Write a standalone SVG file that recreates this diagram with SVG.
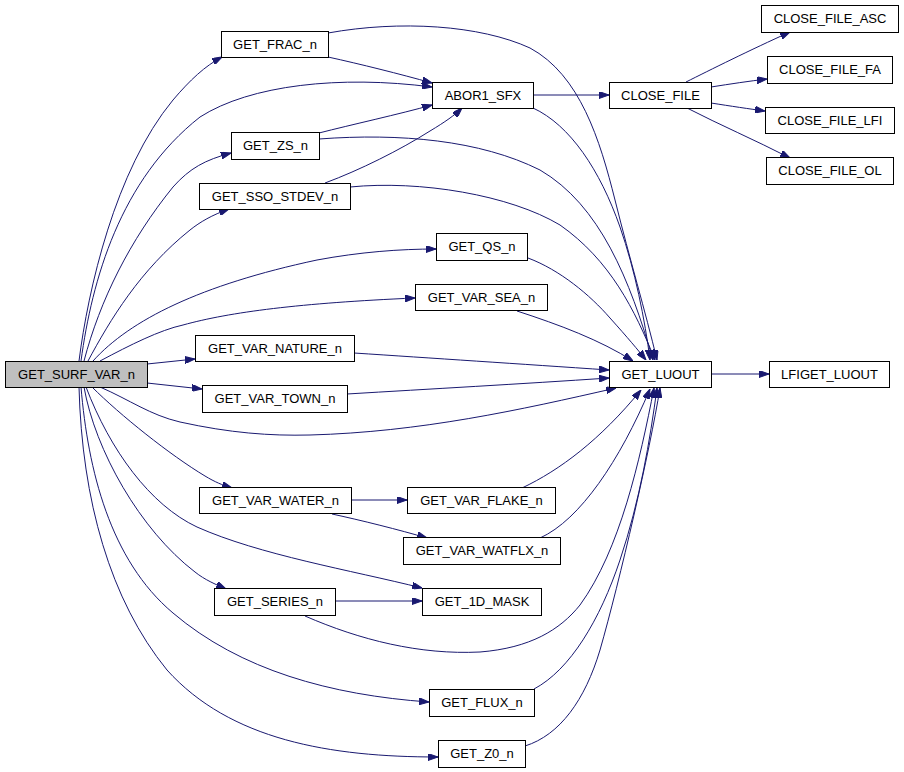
<svg xmlns="http://www.w3.org/2000/svg" width="904" height="772" viewBox="0 0 904 772">
<style>
.n rect{fill:#ffffff;stroke:#000000;stroke-width:1}
.n text{font-family:"Liberation Sans",Arial,sans-serif;font-size:13px;fill:#000000;text-anchor:middle}
#n_surf rect{fill:#bfbfbf}
.e path{fill:none;stroke:#191970;stroke-width:1;marker-end:url(#ah)}
</style>
<defs>
<marker id="ah" viewBox="0 0 10 7" refX="10" refY="3.5" markerWidth="10" markerHeight="7" markerUnits="userSpaceOnUse" orient="auto">
<path d="M0,0 L10,3.5 L0,7 z" fill="#191970" stroke="#191970"/>
</marker>
</defs>
<rect width="904" height="772" fill="#ffffff"/>
<g id="edges" class="e">
<path d="M79,361 C88,290 115,170 173,100 C190,80 205,66 222,57"/>
<path d="M81,361 C92,280 120,180 200,117 C250,85 340,75 432,87"/>
<path d="M84,361 C100,300 130,240 173,187 C190,168 205,160 231,153"/>
<path d="M88,361 C110,320 140,270 190,230 C200,222 212,215 229,209"/>
<path d="M93,361 C130,320 200,285 317,260 C360,252 400,249 436,249"/>
<path d="M100,361 C130,345 160,330 183,325 C230,312 300,303 415,298"/>
<path d="M147,364 L195,359"/>
<path d="M147,383 L202,389"/>
<path d="M100,387 C130,400 150,415 180,422 C230,433 270,436 310,435 C420,432 520,410 616,388"/>
<path d="M92,387 C120,415 170,455 205,476 C215,482 222,485 232,488"/>
<path d="M86,387 C110,450 150,505 197,527 C260,555 350,570 422,588"/>
<path d="M84,387 C95,450 140,530 195,572 C205,580 215,584 226,589"/>
<path d="M81,387 C88,470 110,560 173,613 C240,670 330,695 429,702"/>
<path d="M79,387 C82,500 110,600 167,670 C230,740 330,757 438,757"/>
<path d="M328,57 C360,64 400,74 432,83"/>
<path d="M328,33 C400,20 480,25 530,48 C580,75 600,140 615,200 C630,260 645,310 657,360"/>
<path d="M319,133 C350,125 400,114 432,105"/>
<path d="M319,139 C400,133 480,140 540,170 C600,205 630,280 653,360"/>
<path d="M325,183 C360,170 400,150 430,131 C445,122 455,115 462,108"/>
<path d="M350,187 C420,180 510,195 560,225 C610,260 635,310 655,360"/>
<path d="M533,95 L609,95"/>
<path d="M533,108 C570,125 600,170 620,227 C635,270 645,320 650,360"/>
<path d="M686,82 C710,70 750,50 790,32"/>
<path d="M711,87 C730,84 750,81 767,79"/>
<path d="M711,103 C730,106 750,109 765,111"/>
<path d="M687,108 C720,125 755,140 790,158"/>
<path d="M528,258 C560,270 590,295 610,318 C628,338 638,350 646,360"/>
<path d="M517,311 C560,325 600,340 633,361"/>
<path d="M354,353 C430,358 520,364 609,370"/>
<path d="M347,394 C430,389 520,384 609,378"/>
<path d="M711,374 L769,374"/>
<path d="M351,500 L407,500"/>
<path d="M332,514 C360,520 400,530 427,538"/>
<path d="M522,488 C560,470 600,440 641,390"/>
<path d="M540,538 C580,520 620,460 650,389"/>
<path d="M305,616 C360,640 420,655 480,652 C530,648 560,630 580,605 C620,550 640,460 654,388"/>
<path d="M334,601 L422,601"/>
<path d="M534,689 C570,670 600,620 620,560 C640,500 650,440 657,388"/>
<path d="M525,746 C560,735 585,700 600,650 C620,580 650,450 660,388"/>
</g>
<g id="n_surf" class="n"><rect x="5.5" y="361.5" width="142" height="26"/><text x="76.5" y="379">GET_SURF_VAR_n</text></g>
<g id="n_frac" class="n"><rect x="221.5" y="31.5" width="107" height="26"/><text x="275" y="49">GET_FRAC_n</text></g>
<g id="n_abor1" class="n"><rect x="432.5" y="82.5" width="101" height="26"/><text x="483" y="100">ABOR1_SFX</text></g>
<g id="n_close" class="n"><rect x="609.5" y="82.5" width="102" height="26"/><text x="660.5" y="100">CLOSE_FILE</text></g>
<g id="n_asc" class="n"><rect x="761.5" y="5.5" width="137" height="27"/><text x="830" y="23">CLOSE_FILE_ASC</text></g>
<g id="n_fa" class="n"><rect x="767.5" y="56.5" width="125" height="27"/><text x="830" y="74">CLOSE_FILE_FA</text></g>
<g id="n_lfi" class="n"><rect x="765.5" y="107.5" width="129" height="26"/><text x="830" y="125">CLOSE_FILE_LFI</text></g>
<g id="n_ol" class="n"><rect x="766.5" y="157.5" width="127" height="27"/><text x="830" y="175">CLOSE_FILE_OL</text></g>
<g id="n_zs" class="n"><rect x="231.5" y="132.5" width="88" height="27"/><text x="275.5" y="150">GET_ZS_n</text></g>
<g id="n_sso" class="n"><rect x="199.5" y="183.5" width="151" height="26"/><text x="275" y="201">GET_SSO_STDEV_n</text></g>
<g id="n_qs" class="n"><rect x="436.5" y="233.5" width="91" height="27"/><text x="482" y="251">GET_QS_n</text></g>
<g id="n_sea" class="n"><rect x="415.5" y="284.5" width="132" height="26"/><text x="481.5" y="302">GET_VAR_SEA_n</text></g>
<g id="n_nature" class="n"><rect x="195.5" y="335.5" width="159" height="26"/><text x="275" y="353">GET_VAR_NATURE_n</text></g>
<g id="n_town" class="n"><rect x="202.5" y="385.5" width="145" height="27"/><text x="275" y="403">GET_VAR_TOWN_n</text></g>
<g id="n_luout" class="n"><rect x="609.5" y="361.5" width="102" height="26"/><text x="660.5" y="379">GET_LUOUT</text></g>
<g id="n_lfiget" class="n"><rect x="769.5" y="361.5" width="120" height="26"/><text x="829.5" y="379">LFIGET_LUOUT</text></g>
<g id="n_water" class="n"><rect x="199.5" y="487.5" width="152" height="26"/><text x="275.5" y="505">GET_VAR_WATER_n</text></g>
<g id="n_flake" class="n"><rect x="407.5" y="487.5" width="148" height="26"/><text x="481.5" y="505">GET_VAR_FLAKE_n</text></g>
<g id="n_watflx" class="n"><rect x="403.5" y="537.5" width="157" height="27"/><text x="482" y="555">GET_VAR_WATFLX_n</text></g>
<g id="n_series" class="n"><rect x="214.5" y="588.5" width="121" height="27"/><text x="275" y="606">GET_SERIES_n</text></g>
<g id="n_mask" class="n"><rect x="422.5" y="588.5" width="119" height="27"/><text x="482" y="606">GET_1D_MASK</text></g>
<g id="n_flux" class="n"><rect x="429.5" y="689.5" width="105" height="27"/><text x="482" y="707">GET_FLUX_n</text></g>
<g id="n_z0" class="n"><rect x="438.5" y="740.5" width="87" height="27"/><text x="482" y="758">GET_Z0_n</text></g>
</svg>
